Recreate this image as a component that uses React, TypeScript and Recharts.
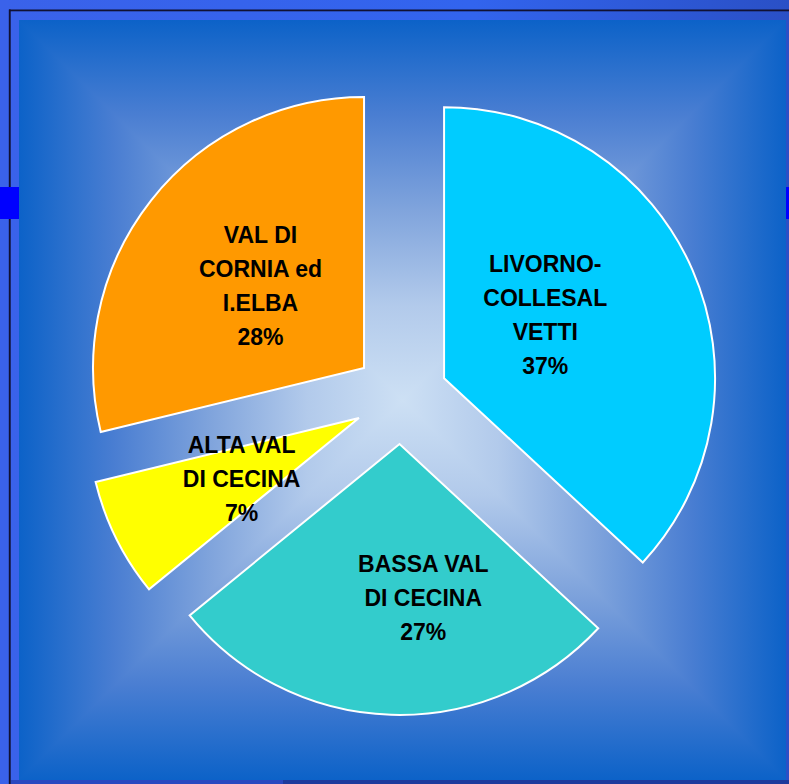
import React from 'react'
import { PieChart, Pie, Cell, Sector } from 'recharts'

// shares per area, printed percentages as on the slide
const REGIONS = ['LIVORNO-COLLESALVETTI', 'BASSA VAL DI CECINA', 'ALTA VAL DI CECINA', 'VAL DI CORNIA ed I.ELBA']
const SHARES = [36.9, 27.2, 7.1, 28.8]
const PCT_LABELS = ['37%', '27%', '7%', '28%']
const LABEL_LINES = [
  ['LIVORNO-', 'COLLESAL', 'VETTI'],
  ['BASSA VAL', 'DI CECINA'],
  ['ALTA VAL', 'DI CECINA'],
  ['VAL DI', 'CORNIA ed', 'I.ELBA']
]
const COLORS = ['#00ccff', '#33cccc', '#ffff00', '#ff9900']

const data = REGIONS.map((name, i) => ({ name, value: SHARES[i] }))

const W = 789
const H = 784
const RADIAN = Math.PI / 180
const EXPLODE = 47
const LINE_H = 34
const LABEL_NUDGE: [number, number][] = [[-23, -9], [28, 19], [4, 1], [3, 2]]

const polar = (cx: number, cy: number, r: number, angle: number) => ({
  x: cx + r * Math.cos(-angle * RADIAN),
  y: cy + r * Math.sin(-angle * RADIAN)
})

function ExplodedSlice(props: any) {
  const { cx, cy, midAngle, startAngle, endAngle, outerRadius, index } = props
  const c = polar(cx, cy, EXPLODE, midAngle)
  const lp = polar(c.x, c.y, outerRadius * 0.5, midAngle)
  const lx = lp.x + LABEL_NUDGE[index][0]
  const ly = lp.y + LABEL_NUDGE[index][1]
  const lines = [...LABEL_LINES[index], PCT_LABELS[index]]
  const top = ly - ((lines.length - 1) / 2) * LINE_H + 8
  return (
    <g>
      <Sector
        cx={c.x}
        cy={c.y}
        innerRadius={0}
        outerRadius={outerRadius}
        startAngle={startAngle}
        endAngle={endAngle}
        fill={COLORS[index]}
        stroke="#ffffff"
        strokeWidth={2}
      />
      <text
        textAnchor="middle"
        fill="#000"
        style={{ fontFamily: "'Liberation Sans', Arial, sans-serif", fontWeight: 700, fontSize: 23 }}
      >
        {lines.map((t, i) => (
          <tspan key={i} x={lx} y={top + i * LINE_H}>{t}</tspan>
        ))}
      </text>
    </g>
  )
}

function Backdrop() {
  const x0 = 19, y0 = 20, x1 = 786, y1 = 780
  const mx = (x0 + x1) / 2
  const my = (y0 + y1) / 2
  const stops = (
    <>
      <stop offset="0%" stopColor="#0c62c8" />
      <stop offset="25%" stopColor="#4a7ed2" />
      <stop offset="50%" stopColor="#80a4dc" />
      <stop offset="75%" stopColor="#b2caeb" />
      <stop offset="100%" stopColor="#cde0f4" />
    </>
  )
  return (
    <svg width={W} height={H} style={{ position: 'absolute', left: 0, top: 0 }}>
      <defs>
        <linearGradient id="bgTop" gradientUnits="userSpaceOnUse" x1={0} y1={y0} x2={0} y2={my}>{stops}</linearGradient>
        <linearGradient id="bgBottom" gradientUnits="userSpaceOnUse" x1={0} y1={y1} x2={0} y2={my}>{stops}</linearGradient>
        <linearGradient id="bgLeft" gradientUnits="userSpaceOnUse" x1={x0} y1={0} x2={mx} y2={0}>{stops}</linearGradient>
        <linearGradient id="bgRight" gradientUnits="userSpaceOnUse" x1={x1} y1={0} x2={mx} y2={0}>{stops}</linearGradient>
        <linearGradient id="frame" x1="0" y1="0" x2="1" y2="0">
          <stop offset="0%" stopColor="#3a62ea" />
          <stop offset="60%" stopColor="#3264ee" />
          <stop offset="100%" stopColor="#2a50c6" />
        </linearGradient>
      </defs>
      <rect x={0} y={0} width={W} height={H} fill="url(#frame)" />
      <rect x={11} y={y1} width={W - 11} height={H - y1} fill="#2a48c0" />
      <rect x={283} y={y1} width={W - 283} height={H - y1} fill="#1e3a9c" />
      <rect x={9} y={9.5} width={W - 9} height={1.8} fill="#111133" />
      <rect x={8.8} y={9.5} width={1.9} height={H - 9.5} fill="#111133" />
      {/* rectangular path gradient: side halves first, then top/bottom wedges over them */}
      <rect x={x0} y={y0} width={mx - x0 + 0.5} height={y1 - y0} fill="url(#bgLeft)" />
      <rect x={mx - 0.5} y={y0} width={x1 - mx + 0.5} height={y1 - y0} fill="url(#bgRight)" />
      <polygon points={`${x0},${y0} ${x1},${y0} ${mx},${my}`} fill="url(#bgTop)" />
      <polygon points={`${x0},${y1} ${x1},${y1} ${mx},${my}`} fill="url(#bgBottom)" />
      <rect x={0} y={187} width={x0} height={32} fill="#0000ff" />
      <rect x={x1} y={187} width={W - x1} height={32} fill="#0000ff" />
    </svg>
  )
}

export default function App() {
  return (
    <div style={{ position: 'absolute', left: 0, top: 0, width: W, height: H, overflow: 'hidden' }}>
      <Backdrop />
      <div style={{ position: 'absolute', left: 0, top: 0 }}>
        <PieChart width={W} height={H} margin={{ top: 0, right: 0, bottom: 0, left: 0 }}>
          <Pie
            data={data}
            dataKey="value"
            nameKey="name"
            cx={401}
            cy={397}
            innerRadius={0}
            outerRadius={271}
            startAngle={90}
            endAngle={-270}
            stroke="none"
            label={ExplodedSlice}
            labelLine={false}
            isAnimationActive={false}
          >
            {data.map((d) => (
              <Cell key={d.name} fill="transparent" />
            ))}
          </Pie>
        </PieChart>
      </div>
    </div>
  )
}
